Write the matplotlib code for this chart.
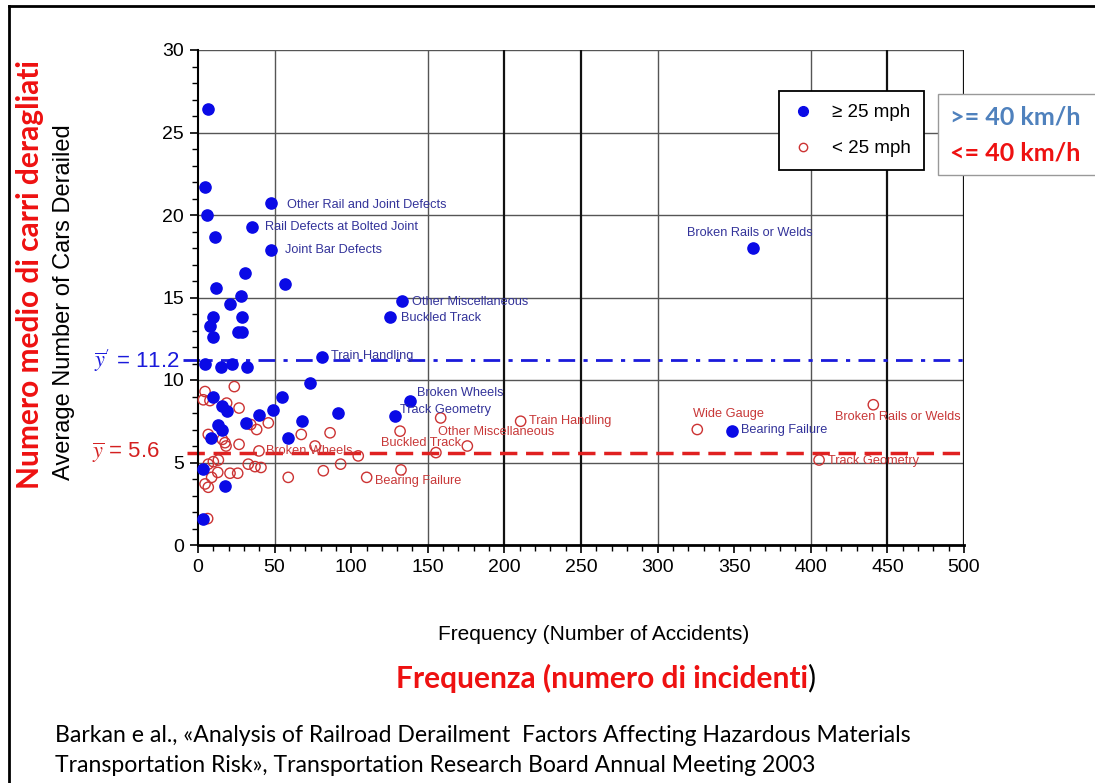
import matplotlib
matplotlib.use("Agg")
import matplotlib.pyplot as plt
from matplotlib.lines import Line2D
from matplotlib.patches import Rectangle

plt.rcParams['mathtext.fontset'] = 'stix'

NARROW = ['Liberation Sans Narrow', 'Liberation Sans', 'DejaVu Sans']
ARIAL = ['Liberation Sans', 'DejaVu Sans']
CALIBRI = ['Lato', 'Open Sans', 'DejaVu Sans']

# >= 25 mph (filled blue)
fast_x = [6.7, 4.6, 5.9, 11.1, 35, 47.6, 47.6, 30.9, 56.8, 11.7, 28, 21.1, 10, 28.7, 7.8,
          25.9, 28.5, 10, 4.6, 15, 22, 31.8, 10, 15.9, 18.7, 39.8, 48.7, 55, 67.7, 31.3,
          13.3, 15.9, 8.5, 58.9, 3.5, 17.6, 3.5, 80.7, 73.1, 91.2, 128.4, 138.4, 125.3,
          133, 348.8, 362.5]
fast_y = [26.4, 21.7, 20.0, 18.65, 19.25, 20.7, 17.9, 16.5, 15.8, 15.6, 15.1, 14.6, 13.8,
          13.8, 13.3, 12.9, 12.9, 12.6, 11.0, 10.8, 11.0, 10.8, 8.95, 8.4, 8.1, 7.9, 8.2,
          9.0, 7.5, 7.4, 7.3, 7.0, 6.5, 6.5, 4.6, 3.6, 1.6, 11.4, 9.8, 8.0, 7.8, 8.75,
          13.8, 14.8, 6.9, 18.0]

# < 25 mph (open red)
slow_x = [23.7, 4.6, 3.5, 7.8, 18.7, 26.8, 45.9, 34.4, 38.3, 6.7, 15.9, 17.6, 18.3, 26.8,
          39.8, 13.3, 10, 6.7, 32.8, 37.2, 41.1, 12.9, 20.9, 25.9, 8.9, 4.6, 6.7, 58.9,
          6.3, 67.4, 86.2, 76.4, 81.8, 93.1, 104.6, 110.1, 131.9, 132.5, 158.4, 175.8,
          210.6, 155.3, 325.9, 440.8, 405.4]
slow_y = [9.6, 9.3, 8.8, 8.75, 8.6, 8.3, 7.4, 7.3, 7.0, 6.7, 6.4, 6.2, 6.0, 6.1, 5.7,
          5.15, 5.05, 4.9, 4.9, 4.75, 4.7, 4.4, 4.35, 4.35, 4.1, 3.7, 3.5, 4.1, 1.6, 6.7,
          6.8, 6.0, 4.5, 4.9, 5.4, 4.1, 6.9, 4.55, 7.7, 6.0, 7.5, 5.6, 7.0, 8.5, 5.15]

fast_labels = [("Other Rail and Joint Defects", 58, 20.6),
               ("Rail Defects at Bolted Joint", 43.7, 19.3),
               ("Joint Bar Defects", 56.8, 17.9),
               ("Other Miscellaneous", 139.7, 14.7),
               ("Buckled Track", 132.5, 13.75),
               ("Train Handling", 86.8, 11.45),
               ("Broken Wheels", 143, 9.2),
               ("Track Geometry", 131.9, 8.2),
               ("Broken Rails or Welds", 319, 18.9),
               ("Bearing Failure", 354.4, 6.95)]
slow_labels = [("Broken Wheels", 44.4, 5.7),
               ("Bearing Failure", 115.5, 3.9),
               ("Buckled Track", 119.5, 6.2),
               ("Other Miscellaneous", 156.7, 6.85),
               ("Train Handling", 216, 7.5),
               ("Wide Gauge", 323, 7.95),
               ("Broken Rails or Welds", 415.8, 7.75),
               ("Track Geometry", 411, 5.1)]

mean_fast = 11.2
mean_slow = 5.6

W, H = 1095, 783
fig = plt.figure(figsize=(W / 100, H / 100), dpi=100)
ax = fig.add_axes([198 / W, 1 - 545 / H, (964 - 198) / W, (545 - 50) / H])

# grid (the original has no lines at 100 and 350)
for y in range(5, 31, 5):
    ax.axhline(y, color='#555555', lw=1.0, zorder=0)
thin_v = [50, 150, 300, 400]
thick_v = [200, 250, 450, 500]
for x in thin_v:
    ax.axvline(x, color='#555555', lw=1.0, zorder=0)
for x in thick_v:
    ax.axvline(x, color='#111111', lw=1.6, zorder=0)

ax.set_xlim(0, 500)
ax.set_ylim(0, 30)
ax.set_xticks(range(0, 501, 50))
ax.set_xticks(range(0, 501, 10), minor=True)
ax.set_yticks(range(0, 31, 5))
ax.set_yticks(range(0, 31, 1), minor=True)
ax.tick_params(which='major', length=6, width=1.2, labelsize=14, pad=4)
ax.tick_params(which='minor', length=4, width=1.0)
for lab in ax.get_xticklabels() + ax.get_yticklabels():
    lab.set_family(NARROW)
for s in ['top', 'right']:
    ax.spines[s].set_visible(False)
ax.spines['left'].set_linewidth(1.5)
ax.spines['bottom'].set_linewidth(2.0)

# mean lines
ax.plot([-10, 500], [mean_fast, mean_fast], color='#1a1adb', lw=2, ls=(0, (6, 3, 1.5, 3)),
        clip_on=False, zorder=2)
ax.plot([-7, 500], [mean_slow, mean_slow], color='#e02020', lw=2.5, ls=(0, (5, 2.5)),
        clip_on=False, zorder=2)
bt = ax.get_yaxis_transform()
ax.text(-0.024, mean_fast, r"$\overline{y}'$" + " = 11.2", transform=bt, ha='right',
        va='center', color='#1a1adb', fontsize=16, family=ARIAL)
ax.text(-0.05, mean_slow, r"$\overline{y}$" + " = 5.6", transform=bt, ha='right',
        va='center', color='#d42020', fontsize=16, family=ARIAL)

# points
ax.scatter(slow_x, slow_y, s=55, facecolors='none', edgecolors='#cc3333', linewidths=1.0,
           zorder=3, clip_on=False)
ax.scatter(fast_x, fast_y, s=65, color='#0a0ae6', zorder=4, clip_on=False)

for txt, x, y in fast_labels:
    ax.text(x, y, txt, color='#33339a', fontsize=9.2, va='center', family=ARIAL, zorder=5)
for txt, x, y in slow_labels:
    ax.text(x, y, txt, color='#c83838', fontsize=9.2, va='center', family=ARIAL, zorder=5)

# legend
h1 = Line2D([], [], ls='none', marker='o', color='#0a0ae6', markersize=7)
h2 = Line2D([], [], ls='none', marker='o', markerfacecolor='none',
            markeredgecolor='#cc3333', markersize=6)
leg = ax.legend([h1, h2], ['\u2265 25 mph', '< 25 mph'], loc='upper left',
                bbox_to_anchor=(779 / W, 1 - 91 / H), bbox_transform=fig.transFigure,
                borderaxespad=0, fancybox=False, framealpha=1, edgecolor='black',
                borderpad=0.7, labelspacing=1.0, handlelength=1.2, handletextpad=0.9,
                prop={'family': ARIAL, 'size': 13.5})
leg.get_frame().set_linewidth(1.3)
leg.set_zorder(10)

# right box with km/h
fig.add_artist(Rectangle((938 / W, 1 - 175 / H), 170 / W, 81 / H, transform=fig.transFigure,
                         facecolor='white', edgecolor='#999999', lw=1.0, zorder=11))
fig.text(950 / W, 1 - 117 / H, '>= 40 km/h', color='#4f81bd', fontsize=18,
         fontweight='bold', family=CALIBRI, va='center', zorder=12)
fig.text(950 / W, 1 - 153 / H, '<= 40 km/h', color='#ee1111', fontsize=18,
         fontweight='bold', family=CALIBRI, va='center', zorder=12)

# axis titles
fig.text(64 / W, 1 - 302 / H, 'Average Number of Cars Derailed', rotation=90, ha='center',
         va='center', fontsize=17, family=ARIAL)
fig.text(30 / W, 1 - 275 / H, 'Numero medio di carri deragliati', rotation=90, ha='center',
         va='center', fontsize=21.5, fontweight='bold', color='#ee1111', family=CALIBRI)
fig.text(594 / W, 1 - 634 / H, 'Frequency (Number of Accidents)', ha='center', va='center',
         fontsize=15, family=NARROW)
fig.text(808 / W, 1 - 678 / H, 'Frequenza (numero di incidenti', ha='right', va='center',
         fontsize=21.5, fontweight='bold', color='#ee1111', family=CALIBRI)
fig.text(808 / W, 1 - 678 / H, ')', ha='left', va='center', fontsize=21.5, family=CALIBRI)

fig.text(55 / W, 1 - 735 / H,
         'Barkan e al., \u00abAnalysis of Railroad Derailment  Factors Affecting Hazardous Materials',
         ha='left', va='center', fontsize=16.6, family=CALIBRI)
fig.text(55 / W, 1 - 765 / H,
         'Transportation Risk\u00bb, Transportation Research Board Annual Meeting 2003',
         ha='left', va='center', fontsize=16.6, family=CALIBRI)

# slide frame
fig.add_artist(Line2D([9 / W, 9 / W], [0, 1 - 6 / H], transform=fig.transFigure,
                      color='black', lw=2))
fig.add_artist(Line2D([9 / W, 1], [1 - 6 / H, 1 - 6 / H], transform=fig.transFigure,
                      color='black', lw=2))

fig.savefig('out.png', dpi=100)
